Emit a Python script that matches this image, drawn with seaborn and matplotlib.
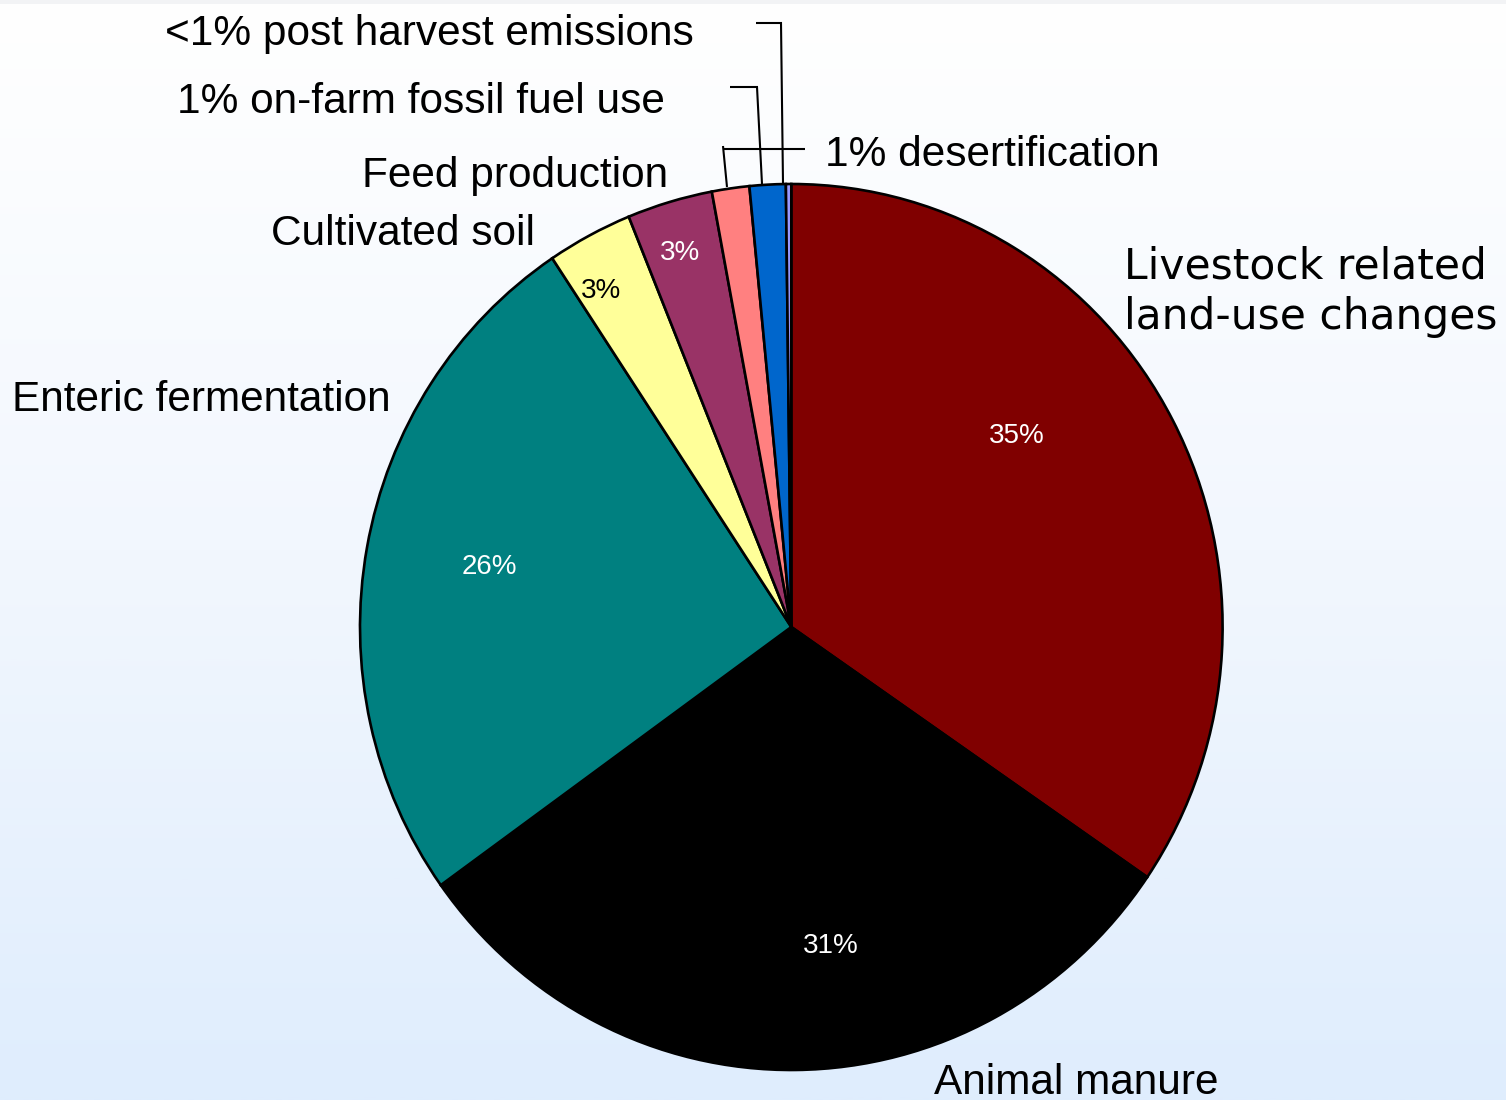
import numpy as np
import matplotlib
matplotlib.use("Agg")
import matplotlib.pyplot as plt
from matplotlib.colors import LinearSegmentedColormap
import seaborn as sns

# Sources of livestock greenhouse-gas emissions (share of total, %)
sources = [
    "Livestock related\nland-use changes",
    "Animal manure",
    "Enteric fermentation",
    "Cultivated soil",
    "Feed production",
    "desertification",
    "on-farm fossil fuel use",
    "post harvest emissions",
]
shares = [34.55, 30.55, 25.55, 3.2, 3.2, 1.4, 1.35, 0.2]
slice_colors = ["#800000", "#000000", "#008080", "#FFFF99",
                "#993366", "#FF8080", "#0066CC", "#9999FF"]
outer_labels = [
    "Livestock related\nland-use changes",
    "Animal manure",
    "Enteric fermentation",
    "Cultivated soil",
    "Feed production",
    "1% desertification",
    "1% on-farm fossil fuel use",
    "<1% post harvest emissions",
]
pct_text_colors = ["white", "white", "white", "black", "white"]

sns.set_theme(style="white")
plt.rcParams["font.family"] = ["Liberation Sans", "DejaVu Sans"]

W, H = 1506, 1100
CX, CY, RX, RY = 791.3, 627.0, 431.3, 443.0


def to_data(px, py):
    """Convert a pixel position on the canvas into pie data units."""
    return (px - CX) / RX, (CY - py) / RY


fig = plt.figure(figsize=(W / 100, H / 100), dpi=100)

# soft vertical background gradient
bg = fig.add_axes([0, 0, 1, 1], zorder=0)
bg.set_axis_off()
grad = np.linspace(0, 1, 512).reshape(-1, 1)
cmap = LinearSegmentedColormap.from_list("bg", ["#ffffff", "#f2f7fe", "#dfedfd"])
bg.imshow(grad, aspect="auto", cmap=cmap, extent=(0, 1, 0, 1), origin="upper")
bg.axhspan(0.9965, 1.0, color="#f2f3f5", lw=0)
bg.set_xlim(0, 1)
bg.set_ylim(0, 1)

ax = fig.add_axes([0, 0, 1, 1], zorder=1)
ax.patch.set_alpha(0)

palette = sns.color_palette(slice_colors)
wedges, _ = ax.pie(
    shares,
    colors=palette,
    startangle=90,
    counterclock=False,
    radius=1.0,
    wedgeprops=dict(edgecolor="black", linewidth=1.9),
)
ax.set_aspect("auto")
x0, y1 = to_data(0, 0)
x1, y0 = to_data(W, H)
ax.set_xlim(x0, x1)
ax.set_ylim(y0, y1)
ax.set_axis_off()

total = sum(shares)

# percentage labels inside the larger slices
pct_positions = [(1017, 436), (831, 946), (489, 567), (601, 291), (680, 253)]
for i, (pos, col) in enumerate(zip(pct_positions, pct_text_colors)):
    pct = round(shares[i] / total * 100)
    ax.text(*to_data(*pos), f"{pct}%", color=col, fontsize=20,
            ha="center", va="center")

# category labels around the pie (anchor pixel, horizontal alignment)
label_layout = [
    ((1124, 292), "left", ["DejaVu Sans"]),
    ((934, 1083), "left", None),
    ((12, 400), "left", None),
    ((535, 234), "right", None),
    ((668, 176), "right", None),
    ((825, 155), "left", None),
    ((665, 102), "right", None),
    ((694, 34), "right", None),
]
for text, (pos, ha, fam) in zip(outer_labels, label_layout):
    kw = {"family": fam} if fam else {}
    ax.text(*to_data(*pos), text, fontsize=30.5, ha=ha, va="center",
            color="black", linespacing=1.25, **kw)

# leader lines for the thin slices
leaders = [
    [(805, 149), (723, 149)],
    [(723, 146), (727, 187)],
    [(730, 87), (757, 87), (762, 184)],
    [(756, 23), (781, 23), (783, 183)],
]
for path in leaders:
    pts = np.array([to_data(*p) for p in path])
    ax.plot(pts[:, 0], pts[:, 1], color="black", lw=1.5,
            solid_capstyle="butt", solid_joinstyle="miter")

fig.savefig("out.png", dpi=100)
